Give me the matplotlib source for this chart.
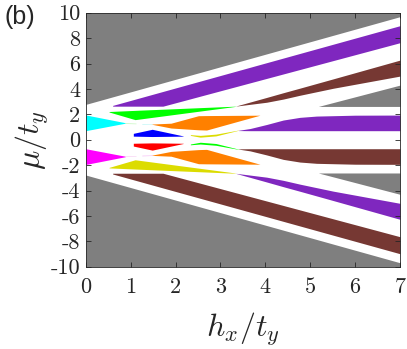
import numpy as np
import matplotlib
matplotlib.use('Agg')
import matplotlib.pyplot as plt

plt.rcParams['mathtext.fontset'] = 'cm'

# colours (matlab-like)
GRAY = '#7f7f7f'
PURPLE = '#7f27bf'
BROWN = '#763833'
ORANGE = '#ff8000'
GREEN = '#00ff00'
YELLOW = '#dcdc00'
CYAN = '#00ffff'
MAGENTA = '#ff00ff'
BLUE = '#0000ff'
RED = '#ff0000'

# ---- region boundaries (hx, lower mu, upper mu) ----
# outer gray
gray_hx = [0.0, 7.0]
gray_top_lo = [2.78, 9.69]
gray_top_hi = [10.0, 10.0]
gray_bot_lo = [-10.0, -10.0]
gray_bot_hi = [-2.78, -9.69]

# outer bands
band_hx = [0.6, 1.72, 7.0]
band_top_lo = [2.64, 2.64, 7.64]
band_top_hi = [2.7, 3.8, 8.98]
band_bot_lo = [-2.7, -3.8, -8.98]
band_bot_hi = [-2.64, -2.64, -7.64]

# inner bands on the right
side_hx = [3.33, 4.03, 4.4, 4.77, 5.51, 7.0]
side_top_lo = [2.64, 2.95, 3.2, 3.5, 4.05, 5.01]
side_top_hi = [2.64, 3.33, 3.7, 4.06, 4.79, 6.27]
side_bot_lo = [-2.64, -3.33, -3.7, -4.06, -4.79, -6.27]
side_bot_hi = [-2.64, -2.95, -3.2, -3.5, -4.05, -5.01]

# small gray triangles on the right
tri_hx = [5.18, 7.0]
tri_top_lo = [2.62, 2.62]
tri_top_hi = [2.62, 4.3]
tri_bot_lo = [-2.62, -4.3]
tri_bot_hi = [-2.62, -2.62]

# middle bands
mid_hx = [3.4, 3.66, 4.03, 4.4, 4.77, 5.14, 6.0, 7.0]
mid_top_lo = [0.72, 0.71, 0.71, 0.71, 0.71, 0.71, 0.71, 0.71]
mid_top_hi = [0.74, 0.88, 1.2, 1.55, 1.76, 1.86, 1.93, 1.94]
mid_bot_lo = [-0.74, -0.88, -1.2, -1.55, -1.76, -1.86, -1.93, -1.94]
mid_bot_hi = [-0.72, -0.71, -0.71, -0.71, -0.71, -0.71, -0.71, -0.71]

# orange pockets
orange_hx = [1.45, 1.9, 2.51, 2.69, 3.88]
orange_top_lo = [1.23, 0.92, 0.78, 0.76, 1.93]
orange_top_hi = [1.23, 1.3, 1.89, 1.9, 1.93]
orange_bot_lo = [-1.23, -1.3, -1.89, -1.9, -1.93]
orange_bot_hi = [-1.23, -0.92, -0.78, -0.76, -1.93]

# long wedges (green above, yellow below)
wedge_hx = [0.52, 1.1, 3.33]
wedge_top_lo = [2.18, 1.58, 2.62]
wedge_top_hi = [2.22, 2.31, 2.64]
wedge_bot_lo = [-2.22, -2.31, -2.64]
wedge_bot_hi = [-2.18, -1.58, -2.62]

# triangles at hx = 0 (cyan / magenta)
left_hx = [0.0, 0.88]
left_top_lo = [0.71, 1.3]
left_top_hi = [1.95, 1.34]
left_bot_lo = [-1.95, -1.34]
left_bot_hi = [-0.71, -1.3]

# thin slivers after the tips
sliv1_hx = [0.88, 1.12]
sliv1_top_lo = [1.28, 1.26]
sliv1_top_hi = [1.33, 1.3]
sliv1_bot_lo = [-1.33, -1.3]
sliv1_bot_hi = [-1.28, -1.26]
sliv2_hx = [1.25, 1.48]
sliv2_top_lo = [1.22, 1.2]
sliv2_top_hi = [1.27, 1.24]
sliv2_bot_lo = [-1.27, -1.24]
sliv2_bot_hi = [-1.22, -1.2]

# blue / red lenses
lens_hx = [1.06, 1.48, 2.17]
lens_top_lo = [0.28, 0.25, 0.28]
lens_top_hi = [0.5, 0.82, 0.3]
lens_bot_lo = [-0.5, -0.82, -0.3]
lens_bot_hi = [-0.28, -0.25, -0.28]

# small crescents near mu = 0
cres_hx = [2.33, 2.55, 2.9, 3.4]
cres_top_lo = [0.34, 0.2, 0.3, 0.74]
cres_top_hi = [0.4, 0.34, 0.44, 0.76]
cres_bot_lo = [-0.4, -0.34, -0.44, -0.76]
cres_bot_hi = [-0.34, -0.2, -0.3, -0.74]

regions = [
    (gray_hx, gray_top_lo, gray_top_hi, GRAY),
    (gray_hx, gray_bot_lo, gray_bot_hi, GRAY),
    (band_hx, band_top_lo, band_top_hi, PURPLE),
    (band_hx, band_bot_lo, band_bot_hi, BROWN),
    (side_hx, side_top_lo, side_top_hi, BROWN),
    (side_hx, side_bot_lo, side_bot_hi, PURPLE),
    (tri_hx, tri_top_lo, tri_top_hi, GRAY),
    (tri_hx, tri_bot_lo, tri_bot_hi, GRAY),
    (mid_hx, mid_top_lo, mid_top_hi, PURPLE),
    (mid_hx, mid_bot_lo, mid_bot_hi, BROWN),
    (orange_hx, orange_top_lo, orange_top_hi, ORANGE),
    (orange_hx, orange_bot_lo, orange_bot_hi, ORANGE),
    (wedge_hx, wedge_top_lo, wedge_top_hi, GREEN),
    (wedge_hx, wedge_bot_lo, wedge_bot_hi, YELLOW),
    (left_hx, left_top_lo, left_top_hi, CYAN),
    (left_hx, left_bot_lo, left_bot_hi, MAGENTA),
    (sliv1_hx, sliv1_top_lo, sliv1_top_hi, '#b8f5b0'),
    (sliv1_hx, sliv1_bot_lo, sliv1_bot_hi, '#f5c8f0'),
    (sliv2_hx, sliv2_top_lo, sliv2_top_hi, '#b8f5f5'),
    (sliv2_hx, sliv2_bot_lo, sliv2_bot_hi, '#f5b8f5'),
    (lens_hx, lens_top_lo, lens_top_hi, BLUE),
    (lens_hx, lens_bot_lo, lens_bot_hi, RED),
    (cres_hx, cres_top_lo, cres_top_hi, YELLOW),
    (cres_hx, cres_bot_lo, cres_bot_hi, GREEN),
]

xticks = [0, 1, 2, 3, 4, 5, 6, 7]
yticks = [-10, -8, -6, -4, -2, 0, 2, 4, 6, 8, 10]

fig = plt.figure(figsize=(4.07, 3.49), dpi=100)
ax = fig.add_axes([0.2106, 0.2358, 0.7724, 0.7278])

for hx, lo, hi, col in regions:
    ax.fill_between(hx, lo, hi, color=col, linewidth=0)

ax.set_xlim(0, 7)
ax.set_ylim(-10, 10)
ax.set_xticks(xticks)
ax.set_yticks(yticks)
ax.set_xticklabels([str(t) for t in xticks], family='cmr10', fontsize=16)
ax.set_yticklabels([str(t) for t in yticks], family='cmr10', fontsize=16)
ax.tick_params(direction='in', top=True, right=True, length=3.5, width=0.6,
               color='#262626', labelcolor='#262626', pad=4)
ax.tick_params(axis='x', pad=8)
for s in ax.spines.values():
    s.set_color('#262626')
    s.set_linewidth(0.6)

ax.set_xlabel(r'$h_x/t_y$', fontsize=23, color='#262626', labelpad=10)
ax.set_ylabel(r'$\mu/t_y$', fontsize=23, color='#262626', labelpad=0)

fig.text(0.01, 0.985, '(b)', family='Liberation Sans', fontsize=18,
         ha='left', va='top', color='#262626')

fig.savefig('out.png', dpi=100)
